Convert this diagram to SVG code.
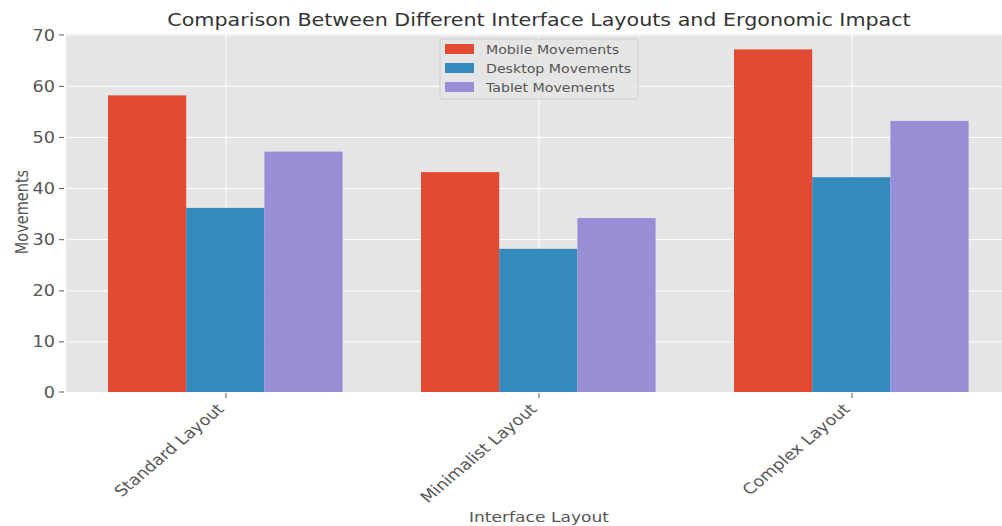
<svg xmlns="http://www.w3.org/2000/svg" width="1002" height="526" viewBox="0 0 1002 526">
<style>
text{font-family:"DejaVu Sans",sans-serif;fill:#555555}
.tk{font-size:15px}
.lg{font-size:12px}
.grid{stroke:#ffffff;stroke-width:1}
.tick{stroke:#555555;stroke-width:1}
.m{fill:#E24A33}
.d{fill:#348ABD}
.t{fill:#988ED5}
</style>
<rect x="0" y="0" width="1002" height="526" fill="#ffffff"/>
<g id="axes">
<rect x="66" y="34" width="936" height="358" fill="#E5E5E5"/>
<g id="grid">
<line class="grid" x1="66" y1="341.9" x2="1002" y2="341.9"/>
<line class="grid" x1="66" y1="290.9" x2="1002" y2="290.9"/>
<line class="grid" x1="66" y1="239.7" x2="1002" y2="239.7"/>
<line class="grid" x1="66" y1="188.6" x2="1002" y2="188.6"/>
<line class="grid" x1="66" y1="137.4" x2="1002" y2="137.4"/>
<line class="grid" x1="66" y1="86.3" x2="1002" y2="86.3"/>
<line class="grid" x1="66" y1="35" x2="1002" y2="35"/>
<line class="grid" x1="226" y1="34" x2="226" y2="392"/>
<line class="grid" x1="539" y1="34" x2="539" y2="392"/>
<line class="grid" x1="852" y1="34" x2="852" y2="392"/>
</g>
</g>
<g id="bars">
<rect class="m" x="108" y="95.4" width="78.2" height="296.6"/>
<rect class="d" x="186.2" y="207.9" width="78.2" height="184.1"/>
<rect class="t" x="264.4" y="151.6" width="78.2" height="240.4"/>
<rect class="m" x="421" y="172.1" width="78.2" height="219.9"/>
<rect class="d" x="499.2" y="248.8" width="78.2" height="143.2"/>
<rect class="t" x="577.4" y="218.1" width="78.2" height="173.9"/>
<rect class="m" x="734" y="49.4" width="78.2" height="342.6"/>
<rect class="d" x="812.2" y="177.2" width="78.2" height="214.8"/>
<rect class="t" x="890.4" y="120.9" width="78.2" height="271.1"/>
</g>
<g id="yticks">
<line class="tick" x1="59" y1="392" x2="64" y2="392"/>
<line class="tick" x1="59" y1="341.9" x2="64" y2="341.9"/>
<line class="tick" x1="59" y1="290.9" x2="64" y2="290.9"/>
<line class="tick" x1="59" y1="239.7" x2="64" y2="239.7"/>
<line class="tick" x1="59" y1="188.6" x2="64" y2="188.6"/>
<line class="tick" x1="59" y1="137.4" x2="64" y2="137.4"/>
<line class="tick" x1="59" y1="86.3" x2="64" y2="86.3"/>
<line class="tick" x1="59" y1="35" x2="64" y2="35"/>
<text class="tk" text-anchor="end" transform="translate(55,397.5) scale(1.18,1)">0</text>
<text class="tk" text-anchor="end" transform="translate(55,347.4) scale(1.18,1)">10</text>
<text class="tk" text-anchor="end" transform="translate(55,296.4) scale(1.18,1)">20</text>
<text class="tk" text-anchor="end" transform="translate(55,245.2) scale(1.18,1)">30</text>
<text class="tk" text-anchor="end" transform="translate(55,194.1) scale(1.18,1)">40</text>
<text class="tk" text-anchor="end" transform="translate(55,142.9) scale(1.18,1)">50</text>
<text class="tk" text-anchor="end" transform="translate(55,91.8) scale(1.18,1)">60</text>
<text class="tk" text-anchor="end" transform="translate(55,40.5) scale(1.18,1)">70</text>
</g>
<g id="xticks">
<line class="tick" x1="226" y1="393" x2="226" y2="398"/>
<line class="tick" x1="539" y1="393" x2="539" y2="398"/>
<line class="tick" x1="852" y1="393" x2="852" y2="398"/>
<text class="tk" text-anchor="end" transform="translate(225,410) scale(1.18,1) rotate(-45)">Standard Layout</text>
<text class="tk" text-anchor="end" transform="translate(538,410) scale(1.18,1) rotate(-45)">Minimalist Layout</text>
<text class="tk" text-anchor="end" transform="translate(851,410) scale(1.18,1) rotate(-45)">Complex Layout</text>
</g>
<text id="title" font-size="17.5" text-anchor="middle" transform="translate(539,25.5) scale(1.18,1)" style="fill:#333333">Comparison Between Different Interface Layouts and Ergonomic Impact</text>
<text id="xlabel" font-size="14.5" text-anchor="middle" transform="translate(539,522) scale(1.18,1)">Interface Layout</text>
<text id="ylabel" font-size="14.5" text-anchor="middle" transform="translate(28,212) scale(1.18,1) rotate(-90)">Movements</text>
<g id="legend">
<rect x="440" y="39" width="198" height="60" rx="2" fill="#E5E5E5" fill-opacity="0.8" stroke="#cccccc" stroke-width="1"/>
<rect class="m" x="445" y="44" width="29" height="10"/>
<rect class="d" x="445" y="63" width="29" height="10"/>
<rect class="t" x="445" y="82" width="29" height="10"/>
<text class="lg" transform="translate(486,54) scale(1.18,1)">Mobile Movements</text>
<text class="lg" transform="translate(486,73) scale(1.18,1)">Desktop Movements</text>
<text class="lg" transform="translate(486,92) scale(1.18,1)">Tablet Movements</text>
</g>
</svg>
